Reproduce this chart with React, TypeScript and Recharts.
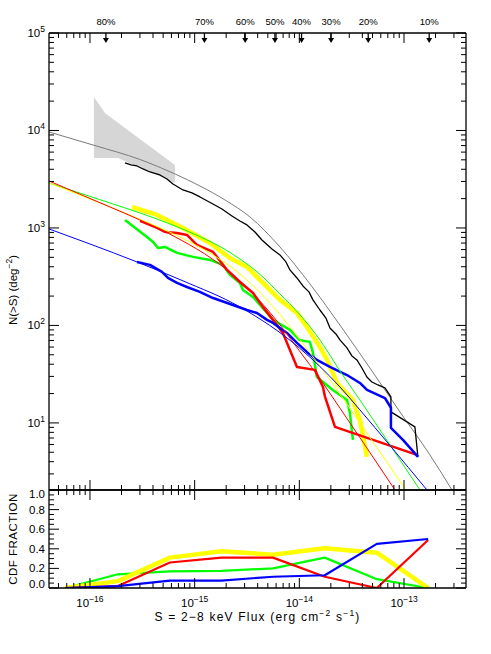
import React from 'react';
import { ComposedChart, Line, Area, XAxis, YAxis } from 'recharts';

// ---------- DATA ----------
// flux S (erg cm^-2 s^-1), N(>S) (deg^-2)
const totalModel: [number, number][] = [
  [4.06e-17, 9652], [1.092e-16, 7050], [3.0e-16, 5041], [6.48e-16, 3580], [1.123e-15, 2697],
  [1.947e-15, 1938], [3.374e-15, 1297], [6.53e-15, 638], [1.263e-14, 266.5], [2.552e-14, 94.3],
  [4.723e-14, 36.6], [9.14e-14, 12.97], [1.767e-13, 4.7], [2.867e-13, 2.055],
];
const totalData: [number, number][] = [
  [2.159e-16, 4642], [2.464e-16, 4429], [2.811e-16, 4324], [3.208e-16, 4029], [3.742e-16, 3752],
  [4.662e-16, 3496], [5.436e-16, 3181], [6.204e-16, 2828], [7.731e-16, 2453], [9.424e-16, 2286],
  [1.123e-15, 2080], [1.495e-15, 1763], [1.823e-15, 1566], [2.272e-15, 1328], [2.708e-15, 1180],
  [3.159e-15, 1074], [3.766e-15, 910], [4.393e-15, 753], [5.473e-15, 609], [6.526e-15, 529],
  [7.447e-15, 448], [8.133e-15, 371], [9.486e-15, 307], [1.082e-14, 254], [1.235e-14, 221],
  [1.349e-14, 183], [1.573e-14, 144], [1.795e-14, 119], [1.96e-14, 94.3], [2.236e-14, 81.8],
  [2.442e-14, 71.0], [2.849e-14, 58.8], [3.18e-14, 48.7], [3.549e-14, 44.3], [3.961e-14, 36.6],
  [4.421e-14, 29.6], [4.935e-14, 26.3], [5.633e-14, 24.5], [6.571e-14, 22.9], [7.498e-14, 18.5],
  [7.498e-14, 12.97], [1.271e-13, 9.1], [1.357e-13, 4.48],
];
// shaded band: flux, low, high
const bandFlux = [1.09e-16, 1.39e-16, 1.85e-16, 6.48e-16];
const bandLow = [5220, 5220, 5220, 2900];
const bandHigh = [22100, 15100, 12000, 4430];

const yellowData: [number, number][] = [
  [2.52e-16, 1640], [4.37e-16, 1360], [7.73e-16, 1000], [1.4e-15, 702], [2.17e-15, 492],
  [3.16e-15, 398], [4.49e-15, 273], [6.53e-15, 183], [9.49e-15, 134], [1.18e-14, 96.6],
  [1.57e-14, 60.2], [1.84e-14, 44.3], [2.29e-14, 25.7], [3.25e-14, 17.2], [3.79e-14, 10.7],
  [4.43e-14, 4.48],
];
const redData: [number, number][] = [
  [3.01e-16, 1180], [4.37e-16, 1000], [5.2e-16, 910], [6.78e-16, 889], [8.44e-16, 848],
  [1.05e-15, 670], [1.5e-15, 568], [2.04e-15, 371], [2.71e-15, 279], [3.61e-15, 215],
  [4.49e-15, 155], [5.6e-15, 114], [6.97e-15, 83.8], [8.13e-15, 56.1], [9.49e-15, 37.5],
  [1.41e-14, 35], [1.68e-14, 23.4], [1.76e-14, 18.5], [2.19e-14, 9.1], [1.33e-13, 4.7],
];
const greenData: [number, number][] = [
  [2.16e-16, 1208], [3.5e-16, 809], [4.0e-16, 718], [4.46e-16, 624], [5.2e-16, 638],
  [6.78e-16, 555], [9.64e-16, 505], [1.4e-15, 470], [1.86e-15, 418], [2.17e-15, 330],
  [2.71e-15, 273], [2.89e-15, 231], [3.61e-15, 196], [4.21e-15, 162], [5.6e-15, 114],
  [8.13e-15, 90], [1.0e-14, 71], [1.26e-14, 67.8], [1.35e-14, 52.2], [1.47e-14, 29.6],
  [2.09e-14, 21.8], [2.85e-14, 17.2], [3.04e-14, 12.7], [3.25e-14, 6.7],
];
const blueData: [number, number][] = [
  [2.81e-16, 448], [3.74e-16, 418], [4.87e-16, 354], [5.56e-16, 307], [6.78e-16, 273],
  [8.44e-16, 248], [1.12e-15, 221], [1.5e-15, 191], [2.32e-15, 162], [3.16e-15, 144],
  [3.94e-15, 134], [4.91e-15, 114], [5.6e-15, 106], [7.62e-15, 83.8], [9.49e-15, 66.2],
  [1.18e-14, 53.5], [1.47e-14, 44.3], [1.96e-14, 37.5], [2.85e-14, 31.0], [3.79e-14, 25.7],
  [4.43e-14, 21.8], [6.57e-14, 18.0], [7.5e-14, 14.3], [7.5e-14, 8.9], [9.77e-14, 6.7],
  [1.36e-13, 4.48],
];
const greenModel: [number, number][] = [
  [4.06e-17, 2894], [1.552e-16, 1805], [3.0e-16, 1425], [5.81e-16, 1099], [1.123e-15, 814],
  [1.746e-15, 645], [2.708e-15, 481], [4.21e-15, 334], [6.53e-15, 210], [1.0e-14, 131],
  [1.573e-14, 71.0], [2.442e-14, 34.1], [3.79e-14, 17.2], [7.33e-14, 5.97], [1.418e-13, 2.055],
];
const redModel: [number, number][] = [
  [4.06e-17, 3034], [1.552e-16, 1642], [3.0e-16, 1208], [7.24e-16, 762], [1.495e-15, 476],
  [2.708e-15, 286], [5.595e-15, 125], [1.0e-14, 55.0], [1.573e-14, 28.4], [2.442e-14, 14.2],
  [3.79e-14, 7.07], [8.186e-14, 2.055],
];
const yellowModel: [number, number][] = [
  [4.06e-17, 2894], [1.552e-16, 1642], [3.0e-16, 1228], [7.24e-16, 808], [1.495e-15, 529],
  [2.708e-15, 337.5], [5.595e-15, 156.6], [1.0e-14, 72.7], [1.96e-14, 27.6], [3.79e-14, 10.0],
  [1.042e-13, 2.055],
];
const blueModel: [number, number][] = [
  [4.06e-17, 977], [1.0e-16, 685], [2.81e-16, 448], [7.565e-16, 289.4], [2.708e-15, 154.8],
  [1.0e-14, 58.8], [2.442e-14, 23.4], [3.79e-14, 13.6], [7.33e-14, 5.88], [1.655e-13, 2.055],
];

// completeness markers on top axis
const completenessLabels = ['80%', '70%', '60%', '50%', '40%', '30%', '20%', '10%'];
const completenessFlux = [1.42e-16, 1.24e-15, 3.04e-15, 5.85e-15, 1.05e-14, 2.01e-14, 4.55e-14, 1.74e-13];

// CDF fraction panel
const cdfFlux = [5.8e-17, 1.85e-16, 5.8e-16, 1.8e-15, 5.6e-15, 1.75e-14, 5.5e-14, 1.7e-13];
const cdfYellow = [0, 0.07, 0.31, 0.375, 0.34, 0.405, 0.36, 0];
const cdfRed = [0, 0.02, 0.26, 0.31, 0.31, 0.115, 0, 0.49];
const cdfGreen = [0, 0.14, 0.17, 0.175, 0.2, 0.31, 0.09, 0];
const cdfBlue = [0, 0.02, 0.075, 0.075, 0.115, 0.13, 0.45, 0.5];

const X_DOMAIN: [number, number] = [4.06e-17, 3.91e-13];
const Y_DOMAIN: [number, number] = [2.05, 1e5];

// ---------- helpers ----------
const rows = (pts: [number, number][]) => pts.map(([s, n]) => ({ s, n }));
const bandRows = bandFlux.map((s, i) => ({ s, band: [bandLow[i], bandHigh[i]] }));
const cdfRows = (vals: number[]) => cdfFlux.map((s, i) => ({ s, f: vals[i] }));

const logTicks = (lo: number, hi: number) => {
  const out: number[] = [];
  for (let e = -18; e <= 6; e++) {
    for (let m = 1; m <= 9; m++) {
      const v = m * Math.pow(10, e);
      if (v >= lo * 0.999 && v <= hi * 1.001) out.push(v);
    }
  }
  return out;
};
const isMajor = (v: number) => Math.abs(Math.log10(v) - Math.round(Math.log10(v))) < 1e-6;
const expOf = (v: number) => Math.round(Math.log10(v));

const xTicks = logTicks(X_DOMAIN[0], X_DOMAIN[1]);
const xTopTicks = [...xTicks, ...completenessFlux].sort((a, b) => a - b);
const yTicks = logTicks(Y_DOMAIN[0], Y_DOMAIN[1]);
const cdfMinor: number[] = [];
for (let i = 0; i <= 20; i++) cdfMinor.push(i / 20);

const FONT = '"Liberation Sans", Arial, Helvetica, sans-serif';
const AX = { stroke: '#000', strokeWidth: 1.3 };

// ---------- tick renderers ----------
const LeftLogTick = (p: any) => {
  const { x, y, payload } = p;
  const v = payload.value;
  const major = isMajor(v);
  return (
    <g>
      <line x1={x} y1={y} x2={x + (major ? 10 : 5)} y2={y} stroke="#000" strokeWidth={1} />
      {major && (
        <text x={x - 4} y={y + 4} textAnchor="end" fontSize={11.5} fontFamily={FONT} fill="#000">
          10<tspan dy={-5} fontSize={8.5}>{expOf(v)}</tspan>
        </text>
      )}
    </g>
  );
};
const RightLogTick = (p: any) => {
  const { x, y, payload } = p;
  const major = isMajor(payload.value);
  return <line x1={x} y1={y} x2={x - (major ? 10 : 5)} y2={y} stroke="#000" strokeWidth={1} />;
};
const TopPctTick = (p: any) => {
  const { x, y, payload } = p;
  const v = payload.value;
  const idx = completenessFlux.indexOf(v);
  if (idx >= 0) {
    return (
      <g>
        <text x={x} y={y - 8} textAnchor="middle" fontSize={9.5} fontFamily={FONT} fill="#000">
          {completenessLabels[idx]}
        </text>
        <line x1={x} y1={y} x2={x} y2={y + 8} stroke="#000" strokeWidth={1.3} />
        <path d={`M${x - 3},${y + 5} L${x + 3},${y + 5} L${x},${y + 10} Z`} fill="#000" />
      </g>
    );
  }
  const major = isMajor(v);
  return <line x1={x} y1={y} x2={x} y2={y + (major ? 10 : 5)} stroke="#000" strokeWidth={1} />;
};
const UpTick = (p: any) => {
  const { x, y, payload } = p;
  const major = isMajor(payload.value);
  return <line x1={x} y1={y} x2={x} y2={y - (major ? 10 : 5)} stroke="#000" strokeWidth={1} />;
};
const DownTick = (p: any) => {
  const { x, y, payload } = p;
  const major = isMajor(payload.value);
  return <line x1={x} y1={y} x2={x} y2={y + (major ? 10 : 5)} stroke="#000" strokeWidth={1} />;
};
const BottomLabelTick = (p: any) => {
  const { x, y, payload } = p;
  const v = payload.value;
  const major = isMajor(v);
  return (
    <g>
      <line x1={x} y1={y} x2={x} y2={y - (major ? 10 : 5)} stroke="#000" strokeWidth={1} />
      {major && (
        <text x={x} y={y + 19} textAnchor="middle" fontSize={11.5} fontFamily={FONT} fill="#000">
          10<tspan dy={-5} fontSize={8.5}>{'\u2212' + Math.abs(expOf(v))}</tspan>
        </text>
      )}
    </g>
  );
};
const isCdfMajor = (v: number) => Math.abs(v * 5 - Math.round(v * 5)) < 1e-6;
const CdfLeftTick = (p: any) => {
  const { x, y, payload } = p;
  const v = payload.value;
  const major = isCdfMajor(v);
  const dy = v === 1 ? 8 : v === 0 ? 0 : 4;
  return (
    <g>
      <line x1={x} y1={y} x2={x + (major ? 10 : 5)} y2={y} stroke="#000" strokeWidth={1} />
      {major && (
        <text x={x - 4} y={y + dy} textAnchor="end" fontSize={11.5} fontFamily={FONT} fill="#000">
          {v.toFixed(1)}
        </text>
      )}
    </g>
  );
};
const CdfRightTick = (p: any) => {
  const { x, y, payload } = p;
  const major = isCdfMajor(payload.value);
  return <line x1={x} y1={y} x2={x - (major ? 10 : 5)} y2={y} stroke="#000" strokeWidth={1} />;
};

const commonX = {
  dataKey: 's',
  type: 'number' as const,
  scale: 'log' as const,
  domain: X_DOMAIN,
  allowDataOverflow: true,
  interval: 0 as const,
  height: 1,
  tickSize: 0,
  tickMargin: 0,
  tickLine: false,
  axisLine: AX,
};

export default function App() {
  const ln = (data: any[], color: string, w: number, key: string, curve: any = 'linear') => (
    <Line
      key={key}
      xAxisId="b"
      yAxisId="l"
      data={data}
      dataKey="n"
      type={curve}
      stroke={color}
      strokeWidth={w}
      dot={false}
      isAnimationActive={false}
      strokeLinejoin="round"
    />
  );
  const cl = (vals: number[], color: string, w: number, key: string) => (
    <Line
      key={key}
      xAxisId="b"
      yAxisId="l"
      data={cdfRows(vals)}
      dataKey="f"
      type="linear"
      stroke={color}
      strokeWidth={w}
      dot={false}
      isAnimationActive={false}
      strokeLinejoin="round"
    />
  );
  return (
    <div style={{ position: 'absolute', left: 0, top: 0, width: 491, height: 654, background: '#fff', fontFamily: FONT }}>
      <div style={{ position: 'absolute', left: 0, top: 0 }}>
        <ComposedChart width={491} height={500} margin={{ top: 32, right: 24, bottom: 9, left: 48 }}>
          <XAxis xAxisId="b" orientation="bottom" {...commonX} ticks={xTicks} tick={(p: any) => <UpTick {...p} />} />
          <XAxis xAxisId="t" orientation="top" {...commonX} ticks={xTopTicks} tick={(p: any) => <TopPctTick {...p} />} />
          <YAxis yAxisId="l" orientation="left" type="number" scale="log" domain={Y_DOMAIN} allowDataOverflow ticks={yTicks} interval={0} width={1} tickSize={0} tickMargin={0} tickLine={false} axisLine={AX} tick={(p: any) => <LeftLogTick {...p} />} />
          <YAxis yAxisId="r" orientation="right" type="number" scale="log" domain={Y_DOMAIN} allowDataOverflow ticks={yTicks} interval={0} width={1} tickSize={0} tickMargin={0} tickLine={false} axisLine={AX} tick={(p: any) => <RightLogTick {...p} />} />
          <Area xAxisId="b" yAxisId="l" data={bandRows} dataKey="band" type="linear" stroke="none" fill="#d6d6d6" fillOpacity={1} isAnimationActive={false} />
          {ln(rows(totalModel), '#7a7a7a', 1, 'tm', 'monotone')}
          {ln(rows(totalData), '#000', 1.3, 'td')}
          {ln(rows(yellowData), '#ffff00', 4.5, 'yd')}
          {ln(rows(greenData), '#00ff00', 2.5, 'gd')}
          {ln(rows(redData), '#ff0000', 2.5, 'rd')}
          {ln(rows(blueData), '#0000ff', 2.5, 'bd')}
          {ln(rows(greenModel), '#00ff00', 1, 'gm', 'monotone')}
          {ln(rows(yellowModel), '#ffff00', 1, 'ym', 'monotone')}
          {ln(rows(redModel), '#ff0000', 1, 'rm', 'monotone')}
          {ln(rows(blueModel), '#0000ff', 1, 'bm', 'monotone')}
        </ComposedChart>
      </div>
      <div style={{ position: 'absolute', left: 0, top: 480 }}>
        <ComposedChart width={491} height={174} margin={{ top: 9, right: 24, bottom: 65, left: 48 }}>
          <XAxis xAxisId="b" orientation="bottom" {...commonX} ticks={xTicks} tick={(p: any) => <BottomLabelTick {...p} />} />
          <XAxis xAxisId="t" orientation="top" {...commonX} ticks={xTicks} tick={(p: any) => <DownTick {...p} />} />
          <YAxis yAxisId="l" orientation="left" type="number" domain={[0, 1]} allowDataOverflow ticks={cdfMinor} interval={0} width={1} tickSize={0} tickMargin={0} tickLine={false} axisLine={AX} tick={(p: any) => <CdfLeftTick {...p} />} />
          <YAxis yAxisId="r" orientation="right" type="number" domain={[0, 1]} allowDataOverflow ticks={cdfMinor} interval={0} width={1} tickSize={0} tickMargin={0} tickLine={false} axisLine={AX} tick={(p: any) => <CdfRightTick {...p} />} />
          {cl(cdfGreen, '#00ff00', 2.2, 'cg')}
          {cl(cdfYellow, '#ffff00', 4.5, 'cy')}
          {cl(cdfRed, '#ff0000', 2.2, 'cr')}
          {cl(cdfBlue, '#0000ff', 2.2, 'cb')}
        </ComposedChart>
      </div>
      <svg width={491} height={654} style={{ position: 'absolute', left: 0, top: 0, pointerEvents: 'none' }}>
        <text transform="translate(17,290) rotate(-90)" textAnchor="middle" fontSize={11.5} fontFamily={FONT} fill="#000">
          N(&gt;S)  (deg<tspan dy={-5} fontSize={8.5}>{'\u2212'}2</tspan><tspan dy={5}>)</tspan>
        </text>
        <text transform="translate(17,539) rotate(-90)" textAnchor="middle" fontSize={11.5} fontFamily={FONT} fill="#000" letterSpacing={0.5}>
          CDF FRACTION
        </text>
        <text x={257.5} y={621} textAnchor="middle" fontSize={12} fontFamily={FONT} fill="#000" letterSpacing={1.2}>
          S = 2{'\u2212'}8 keV Flux (erg cm<tspan dy={-5} fontSize={8.5}>{'\u2212'}2</tspan>
          <tspan dy={5}> s</tspan><tspan dy={-5} fontSize={8.5}>{'\u2212'}1</tspan><tspan dy={5}>)</tspan>
        </text>
      </svg>
    </div>
  );
}
